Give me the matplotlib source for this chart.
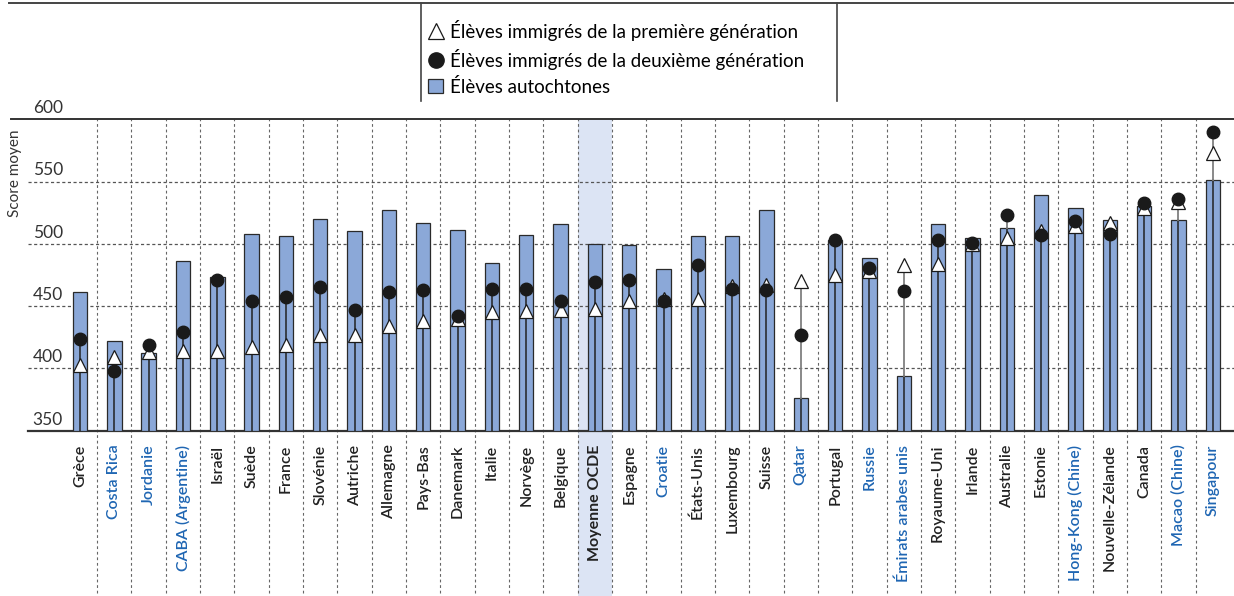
import matplotlib
matplotlib.use('Agg')
import matplotlib.pyplot as plt
import matplotlib.transforms as mtransforms
from matplotlib.lines import Line2D
from matplotlib.patches import Patch
import numpy as np

plt.rcParams['font.family'] = ['Lato', 'DejaVu Sans']

countries = ['Grèce', 'Costa Rica', 'Jordanie', 'CABA (Argentine)', 'Israël', 'Suède',
             'France', 'Slovénie', 'Autriche', 'Allemagne', 'Pays-Bas', 'Danemark',
             'Italie', 'Norvège', 'Belgique', 'Moyenne OCDE', 'Espagne', 'Croatie',
             'États-Unis', 'Luxembourg', 'Suisse', 'Qatar', 'Portugal', 'Russie',
             'Émirats arabes unis', 'Royaume-Uni', 'Irlande', 'Australie', 'Estonie',
             'Hong-Kong (Chine)', 'Nouvelle-Zélande', 'Canada', 'Macao (Chine)', 'Singapour']

# partner economies (blue labels)
partners = ['Costa Rica', 'Jordanie', 'CABA (Argentine)', 'Croatie', 'Qatar', 'Russie',
            'Émirats arabes unis', 'Hong-Kong (Chine)', 'Macao (Chine)', 'Singapour']

# mean score, non-immigrant students
native = [461, 422, 412, 486, 473, 508, 506, 520, 510, 527, 517, 511, 485, 507, 516, 500,
          499, 480, 506, 506, 527, 376, 503, 489, 394, 516, 505, 513, 539, 529, 519, 530,
          519, 551]
# first-generation immigrant students
first_gen = [403, 409, 413, 414, 414, 417, 419, 427, 427, 434, 438, 440, 445, 446, 447, 448,
             454, 456, 456, 466, 467, 470, 475, 478, 483, 484, 500, 505, 510, 514, 517, 529,
             534, 573]
# second-generation immigrant students
second_gen = [424, 398, 419, 429, 471, 454, 457, 465, 447, 461, 463, 442, 464, 464, 454, 469,
              471, 454, 483, 464, 463, 427, 503, 481, 462, 503, 501, 523, 507, 518, 508, 533,
              536, 590]

yticks = [350, 400, 450, 500, 550, 600]

W, H = 1234, 596
fig = plt.figure(figsize=(W / 100, H / 100), dpi=100)
ax = fig.add_axes([28 / W, (H - 430.7) / H, 1206 / W, 311.4 / H])

x = np.arange(len(countries))
ax.set_xlim(-1.515, 33.62)
ax.set_ylim(350, 600)

bar_color = '#8ba8d8'
ax.bar(x, np.array(native) - 350, bottom=350, width=0.42, color=bar_color,
       edgecolor='#2a2a2a', linewidth=0.9, zorder=3)

# range line from the axis to the highest immigrant score
for i in x:
    top = max(first_gen[i], second_gen[i])
    ax.plot([i, i], [350, min(top, native[i])], color='#222222', lw=1.1, zorder=4)
    if top > native[i]:
        ax.plot([i, i], [native[i], top], color='#808080', lw=1.3, zorder=4)

ax.plot(x, first_gen, linestyle='none', marker='^', markersize=10,
        markerfacecolor='white', markeredgecolor='#1a1a1a', markeredgewidth=0.9, zorder=5)
ax.plot(x, second_gen, linestyle='none', marker='o', markersize=9,
        markerfacecolor='#1a1a1a', markeredgecolor='#1a1a1a', zorder=6)

# OECD average column highlight and vertical separators running into label area
oecd = countries.index('Moyenne OCDE')
trans = mtransforms.blended_transform_factory(ax.transData, ax.transAxes)
ax.add_patch(plt.Rectangle((oecd - 0.5, -0.53), 1.0, 1.53, transform=trans,
                           facecolor='#dce4f4', edgecolor='none', zorder=0, clip_on=False))
for k in range(len(countries) - 1):
    ax.plot([k + 0.5, k + 0.5], [-0.52, 1], transform=trans, color='#666666', lw=0.8,
            linestyle=(0, (2.5, 2.5)), clip_on=False, zorder=1)

for v in yticks[1:-1]:
    ax.axhline(v, color='#555555', lw=0.9, linestyle=(0, (2.5, 2)), zorder=1)

for s in ['left', 'right', 'top']:
    ax.spines[s].set_visible(False)
ax.spines['bottom'].set_linewidth(1.6)
ax.spines['bottom'].set_color('#333333')

ax.set_yticks([])
ytrans = mtransforms.blended_transform_factory(ax.transAxes, ax.transData)
for v in yticks:
    ax.text(35 / 1206, v + 2.5, str(v), transform=ytrans, ha='right', va='bottom',
            fontsize=12.5, color='#333333')

ax.set_xticks(x)
ax.set_xticklabels(countries, rotation=90, fontsize=11.5, fontweight='semibold', va='top')
ax.tick_params(axis='x', length=0, pad=10)
for lab in ax.get_xticklabels():
    name = lab.get_text()
    if name in partners:
        lab.set_color('#1f66b3')
    else:
        lab.set_color('#222222')
    if name == 'Moyenne OCDE':
        lab.set_fontweight('bold')

fig.text(15 / W, 1 - 173 / H, 'Score moyen', rotation=90, ha='center', va='center',
         fontsize=11, color='#333333')

# frame lines: top border, axes top line, legend separators
fig.add_artist(Line2D([9 / W, 1], [1 - 3 / H] * 2, color='#444444', lw=1.4))
fig.add_artist(Line2D([11 / W, 1], [1 - 119.3 / H] * 2, color='#333333', lw=1.4))
for lx in [421.3, 836.7]:
    fig.add_artist(Line2D([lx / W] * 2, [1 - 3 / H, 1 - 101 / H], color='#444444', lw=1.2))

handles = [
    Line2D([], [], linestyle='none', marker='^', markersize=11, markerfacecolor='white',
           markeredgecolor='#1a1a1a', markeredgewidth=0.9),
    Line2D([], [], linestyle='none', marker='o', markersize=11, markerfacecolor='#1a1a1a',
           markeredgecolor='#1a1a1a'),
    Patch(facecolor=bar_color, edgecolor='#2a2a2a', linewidth=0.9),
]
labels = ['Élèves immigrés de la première génération',
          'Élèves immigrés de la deuxième génération',
          'Élèves autochtones']
fig.legend(handles, labels, loc='upper left', bbox_to_anchor=(428 / W, 1 - 20 / H),
           frameon=False, fontsize=13.5, handlelength=0.8, handleheight=0.8,
           handletextpad=0.35, labelspacing=0.42, borderpad=0, borderaxespad=0)

fig.savefig('out.png', dpi=100)
